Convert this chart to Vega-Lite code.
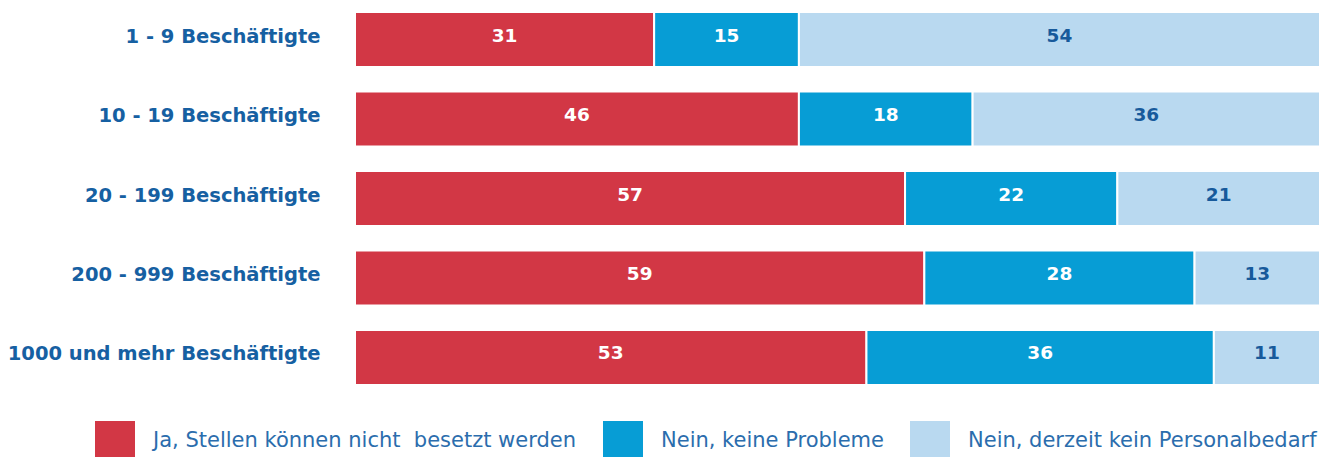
{
  "$schema": "https://vega.github.io/schema/vega-lite/v6.json",
  "autosize": {"type": "none"},
  "width": 965,
  "height": 397,
  "padding": {"left": 355, "top": 0, "right": 8, "bottom": 60},
  "background": "white",
  "config": {"view": {"stroke": null}, "font": "DejaVu Sans"},
  "data": {"values": [
    {"g": "1 - 9 Beschäftigte", "cat": "Ja, Stellen können nicht\u00a0 besetzt werden", "idx": 1, "v": 31},
    {"g": "1 - 9 Beschäftigte", "cat": "Nein, keine Probleme", "idx": 2, "v": 15},
    {"g": "1 - 9 Beschäftigte", "cat": "Nein, derzeit kein Personalbedarf", "idx": 3, "v": 54},
    {"g": "10 - 19 Beschäftigte", "cat": "Ja, Stellen können nicht\u00a0 besetzt werden", "idx": 1, "v": 46},
    {"g": "10 - 19 Beschäftigte", "cat": "Nein, keine Probleme", "idx": 2, "v": 18},
    {"g": "10 - 19 Beschäftigte", "cat": "Nein, derzeit kein Personalbedarf", "idx": 3, "v": 36},
    {"g": "20 - 199 Beschäftigte", "cat": "Ja, Stellen können nicht\u00a0 besetzt werden", "idx": 1, "v": 57},
    {"g": "20 - 199 Beschäftigte", "cat": "Nein, keine Probleme", "idx": 2, "v": 22},
    {"g": "20 - 199 Beschäftigte", "cat": "Nein, derzeit kein Personalbedarf", "idx": 3, "v": 21},
    {"g": "200 - 999 Beschäftigte", "cat": "Ja, Stellen können nicht\u00a0 besetzt werden", "idx": 1, "v": 59},
    {"g": "200 - 999 Beschäftigte", "cat": "Nein, keine Probleme", "idx": 2, "v": 28},
    {"g": "200 - 999 Beschäftigte", "cat": "Nein, derzeit kein Personalbedarf", "idx": 3, "v": 13},
    {"g": "1000 und mehr Beschäftigte", "cat": "Ja, Stellen können nicht\u00a0 besetzt werden", "idx": 1, "v": 53},
    {"g": "1000 und mehr Beschäftigte", "cat": "Nein, keine Probleme", "idx": 2, "v": 36},
    {"g": "1000 und mehr Beschäftigte", "cat": "Nein, derzeit kein Personalbedarf", "idx": 3, "v": 11}
  ]},
  "transform": [
    {"stack": "v", "groupby": ["g"], "sort": [{"field": "idx", "order": "ascending"}], "as": ["x0", "x1"]},
    {"calculate": "(datum.x0 + datum.x1) / 2", "as": "xm"}
  ],
  "encoding": {
    "y": {
      "field": "g", "type": "nominal", "sort": null,
      "scale": {"paddingInner": 0.308, "paddingOuter": 0.151},
      "axis": {
        "title": null, "domain": false, "ticks": false, "labelPadding": 35,
        "labelFont": "DejaVu Sans", "labelFontWeight": "bold", "labelFontSize": 19.5,
        "labelColor": "#1660A2", "labelLimit": 400, "labelOffset": -3
      }
    }
  },
  "layer": [
    {
      "mark": {"type": "bar", "stroke": "white", "strokeWidth": 2},
      "encoding": {
        "x": {"field": "x0", "type": "quantitative", "scale": {"domain": [0, 100], "nice": false}, "axis": null},
        "x2": {"field": "x1"},
        "color": {
          "field": "cat", "type": "nominal",
          "scale": {
            "domain": ["Ja, Stellen können nicht\u00a0 besetzt werden", "Nein, keine Probleme", "Nein, derzeit kein Personalbedarf"],
            "range": ["#D23745", "#079DD5", "#B9D9F0"]
          },
          "legend": {
            "title": null, "orient": "none", "direction": "horizontal",
            "legendX": -260, "legendY": 421,
            "symbolType": "square", "symbolSize": 1600, "symbolStrokeWidth": 0,
            "labelFont": "DejaVu Sans", "labelFontSize": 21, "labelColor": "#2B6DAD",
            "labelOffset": 18, "columnPadding": 26, "labelLimit": 600
          }
        }
      }
    },
    {
      "mark": {"type": "text", "font": "DejaVu Sans", "fontWeight": "bold", "fontSize": 18.5, "dy": -4},
      "encoding": {
        "x": {"field": "xm", "type": "quantitative"},
        "text": {"field": "v", "type": "quantitative"},
        "color": {
          "condition": {"test": "datum.idx == 3", "value": "#175A9B"},
          "value": "white"
        }
      }
    }
  ]
}
